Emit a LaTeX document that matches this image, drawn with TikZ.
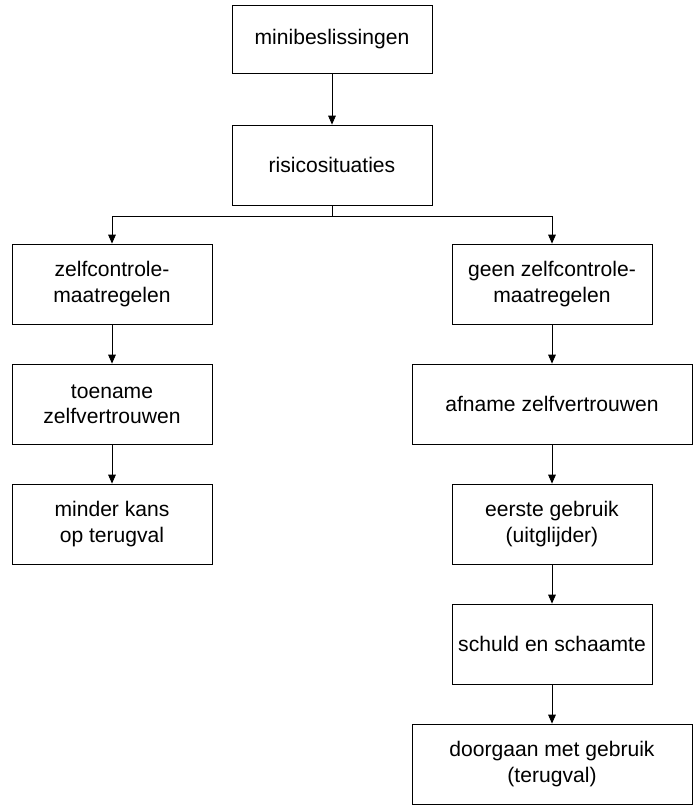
\documentclass[tikz,border=0pt]{standalone}
\usepackage{fontspec}
\setmainfont{Liberation Sans}
\usetikzlibrary{arrows.meta}

\tikzset{
	blok/.style={draw, line width=0.7pt, align=center, minimum width=6cm, minimum height=2.4cm, inner sep=2pt, font=\fontsize{18}{21.5}\selectfont},
	breed/.style={blok, minimum width=8.4cm},
	pijl/.style={-{Triangle[length=2.7mm,width=2.3mm]}, line width=0.7pt}
}

\begin{document}
\begin{tikzpicture}[x=0.03cm, y=-0.03cm]
	\useasboundingbox (0,0) rectangle (693,805);

	\node[blok, minimum height=2.04cm](mini) at (332,39) {minibeslissingen};
	\node[blok](risico) at (332,165) {risicosituaties};
	\coordinate(split) at (332,216);

	\node[blok](zelf) at (112,284) {zelfcontrole-\\maatregelen};
	\node[blok](toename) at (112,404) {toename\\zelfvertrouwen};
	\node[blok](minder) at (112,524) {minder kans\\op terugval};

	\node[blok](geen) at (552,284) {geen zelfcontrole-\\maatregelen};
	\node[breed](afname) at (552,404) {afname zelfvertrouwen};
	\node[blok](eerste) at (552,524) {eerste gebruik\\(uitglijder)};
	\node[blok](schuld) at (552,644) {schuld en schaamte};
	\node[breed](door) at (552,764) {doorgaan met gebruik\\(terugval)};

	\draw[pijl](mini) -- (risico);
	\draw[line width=0.7pt](risico) -- (split);
	\draw[pijl](split) -| (zelf);
	\draw[pijl](split) -| (geen);

	\draw[pijl](zelf) -- (toename);
	\draw[pijl](toename) -- (minder);

	\draw[pijl](geen) -- (afname);
	\draw[pijl](afname) -- (eerste);
	\draw[pijl](eerste) -- (schuld);
	\draw[pijl](schuld) -- (door);
\end{tikzpicture}
\end{document}
